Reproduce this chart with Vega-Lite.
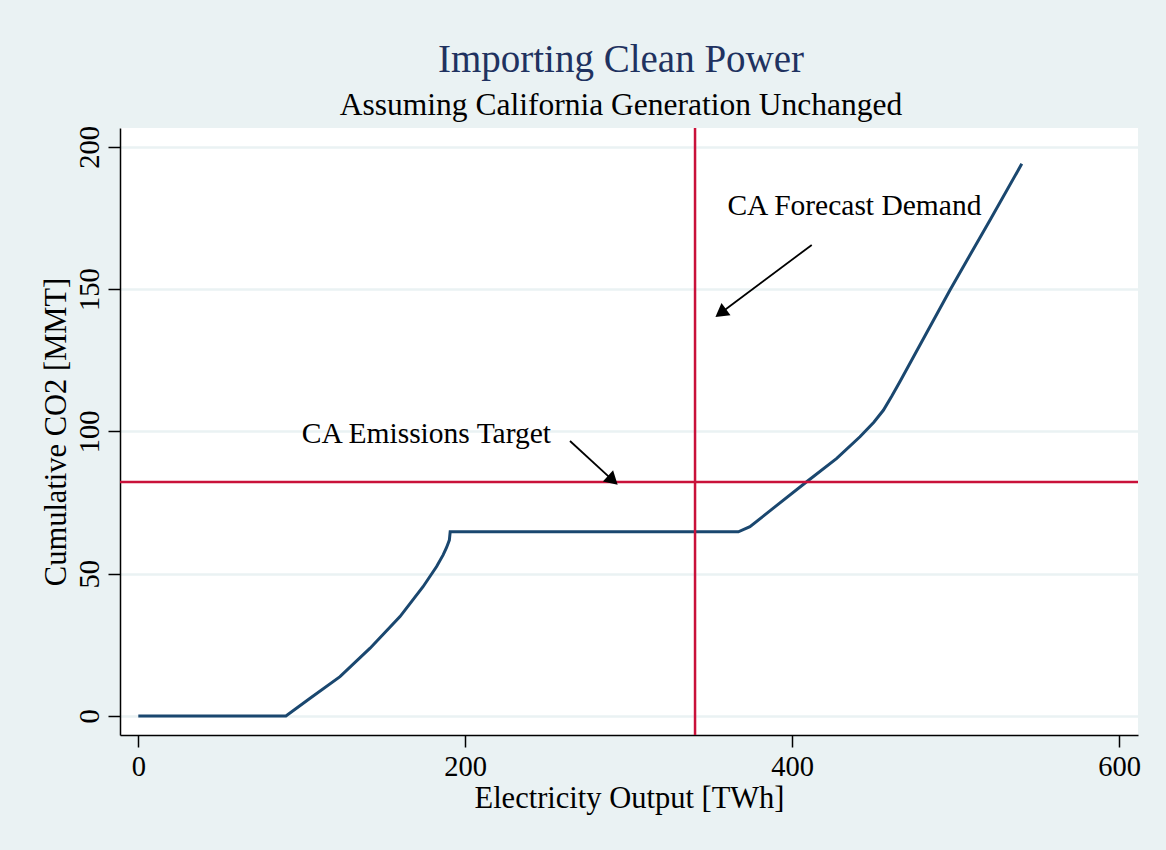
{
  "$schema": "https://vega.github.io/schema/vega-lite/v6.json",
  "width": 1018,
  "height": 607,
  "autosize": "none",
  "padding": {"left": 120, "top": 128, "right": 28, "bottom": 115},
  "background": "#EAF2F3",
  "config": {
    "view": {"fill": "white", "stroke": null},
    "font": "Liberation Serif",
    "axis": {
      "domainColor": "black", "domainWidth": 1.5, "tickColor": "black", "tickWidth": 1.5, "tickSize": 12,
      "labelFont": "Liberation Serif", "labelFontSize": 28.5, "labelColor": "black",
      "titleFont": "Liberation Serif", "titleFontSize": 30.5, "titleColor": "black", "titleFontWeight": "normal",
      "labelFlush": false, "labelOverlap": false
    }
  },
  "title": {
    "text": "Importing Clean Power",
    "subtitle": "Assuming California Generation Unchanged",
    "font": "Liberation Serif", "fontSize": 39, "fontWeight": "normal", "color": "#1F3260",
    "subtitleFont": "Liberation Serif", "subtitleFontSize": 31.5, "subtitleColor": "black",
    "anchor": "middle", "frame": "group", "dx": -8, "offset": 4, "subtitlePadding": 10
  },
  "datasets": {
    "curve": [
      {"x": 0, "y": 0}, {"x": 90.3, "y": 0}, {"x": 105.1, "y": 6.2}, {"x": 123.4, "y": 13.8},
      {"x": 141.8, "y": 23.8}, {"x": 160.1, "y": 34.9}, {"x": 174.2, "y": 45.4}, {"x": 182.5, "y": 52.5},
      {"x": 186.5, "y": 56.6}, {"x": 188.6, "y": 59.2}, {"x": 190.3, "y": 61.8}, {"x": 190.8, "y": 64.7}, {"x": 367.1, "y": 64.7},
      {"x": 374.2, "y": 66.5}, {"x": 388.5, "y": 73.0}, {"x": 408.9, "y": 82.3}, {"x": 427.3, "y": 90.5},
      {"x": 441.5, "y": 98.1}, {"x": 450.0, "y": 103.2}, {"x": 455.8, "y": 107.4}, {"x": 461.0, "y": 112.4}, {"x": 466.0, "y": 117.5}, {"x": 472.1, "y": 123.9},
      {"x": 496.6, "y": 149.7}, {"x": 521.1, "y": 174.3}, {"x": 540.5, "y": 194.0}
    ],
    "demand": [{"x": 340.6}],
    "target": [{"y": 82.2}],
    "arrows": [
      {"x": 264.1, "y": 96.6, "x2": 290.3, "y2": 82.8, "angle": 132.5},
      {"x": 412.0, "y": 165.5, "x2": 356.3, "y2": 141.6, "angle": 233.5}
    ],
    "labels": [
      {"x": 100.0, "y": 95.8, "label": "CA Emissions Target"},
      {"x": 360.4, "y": 176.0, "label": "CA Forecast Demand"}
    ]
  },
  "layer": [
    {
      "data": {"name": "curve"},
      "mark": {"type": "line", "color": "#1A476F", "strokeWidth": 3},
      "encoding": {
        "x": {"field": "x", "type": "quantitative", "title": "Electricity Output [TWh]",
              "scale": {"domain": [-11.2, 611.6], "nice": false, "zero": false},
              "axis": {"values": [0, 200, 400, 600], "grid": false, "labelPadding": 5, "titlePadding": 3}},
        "y": {"field": "y", "type": "quantitative", "title": "Cumulative CO2 [MMT]",
              "scale": {"domain": [-6.7, 206.6], "nice": false, "zero": false},
              "axis": {"values": [0, 50, 100, 150, 200], "grid": true, "gridColor": "#EAF2F3", "gridWidth": 2.5,
                       "labelAngle": -90, "labelAlign": "center", "labelBaseline": "bottom", "labelPadding": 4, "titlePadding": 4}}
      }
    },
    {
      "data": {"name": "demand"},
      "mark": {"type": "rule", "color": "#C9113A", "strokeWidth": 2.5},
      "encoding": {"x": {"field": "x", "type": "quantitative", "title": "Electricity Output [TWh]"}}
    },
    {
      "data": {"name": "target"},
      "mark": {"type": "rule", "color": "#C9113A", "strokeWidth": 2.5},
      "encoding": {"y": {"field": "y", "type": "quantitative", "title": "Cumulative CO2 [MMT]"}}
    },
    {
      "data": {"name": "arrows"},
      "mark": {"type": "rule", "color": "black", "strokeWidth": 1.8},
      "encoding": {
        "x": {"field": "x", "type": "quantitative", "title": "Electricity Output [TWh]"},
        "y": {"field": "y", "type": "quantitative", "title": "Cumulative CO2 [MMT]"},
        "x2": {"field": "x2"},
        "y2": {"field": "y2"}
      }
    },
    {
      "data": {"name": "arrows"},
      "mark": {"type": "point", "shape": "triangle-up", "filled": true, "color": "black", "size": 230, "opacity": 1},
      "encoding": {
        "x": {"field": "x2", "type": "quantitative", "title": "Electricity Output [TWh]"},
        "y": {"field": "y2", "type": "quantitative", "title": "Cumulative CO2 [MMT]"},
        "angle": {"field": "angle", "type": "quantitative", "scale": null}
      }
    },
    {
      "data": {"name": "labels"},
      "mark": {"type": "text", "align": "left", "baseline": "alphabetic", "font": "Liberation Serif", "fontSize": 29.5, "color": "black"},
      "encoding": {
        "x": {"field": "x", "type": "quantitative", "title": "Electricity Output [TWh]"},
        "y": {"field": "y", "type": "quantitative", "title": "Cumulative CO2 [MMT]"},
        "text": {"field": "label"}
      }
    }
  ]
}
